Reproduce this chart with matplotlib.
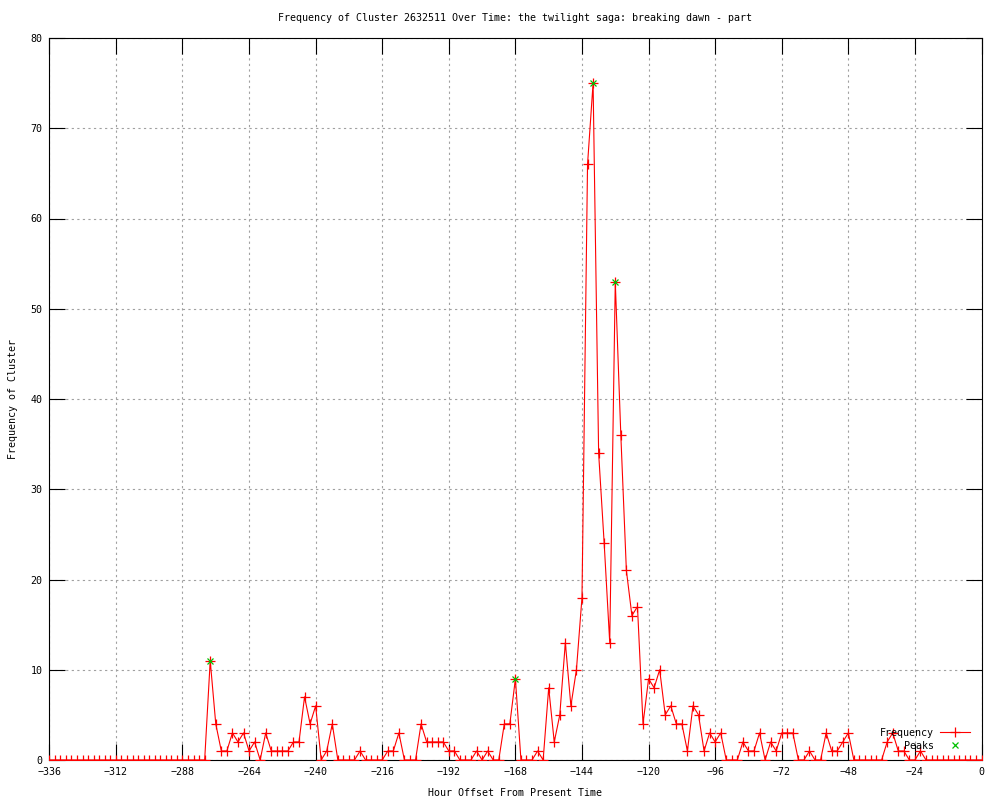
import numpy as np
import matplotlib
matplotlib.use('Agg')
from matplotlib import pyplot as plt

# hour offsets, one sample every 2 hours from -336 to 0
hours = np.arange(-336, 1, 2)

freq = [0] * 29 + [
    11, 4, 1, 1, 3, 2, 3, 1, 2, 0,
    3, 1, 1, 1, 1, 2, 2, 7, 4, 6,
    0, 1, 4, 0, 0, 0, 0, 1, 0, 0,
    0, 0, 1, 1, 3, 0, 0, 0, 4, 2,
    2, 2, 2, 1, 1, 0, 0, 0, 1, 0,
    1, 0, 0, 4, 4, 9, 0, 0, 0, 1,
    0, 8, 2, 5, 13, 6, 10, 18, 66, 75,
    34, 24, 13, 53, 36, 21, 16, 17, 4, 9,
    8, 10, 5, 6, 4, 4, 1, 6, 5, 1,
    3, 2, 3, 0, 0, 0, 2, 1, 1, 3,
    0, 2, 1, 3, 3, 3, 0, 0, 1, 0,
    0, 3, 1, 1, 2, 3, 0, 0, 0, 0,
    0, 0, 2, 3, 1, 1, 0, 0, 1, 0,
] + [0] * 10

peak_hours = [-278, -168, -140, -132]
peak_vals = [11, 9, 75, 53]

xticks = list(range(-336, 1, 24))
yticks = list(range(0, 81, 10))

title = "Frequency of Cluster 2632511 Over Time: the twilight saga: breaking dawn - part"

mono = 'DejaVu Sans Mono'
fs = 7.2
plt.rcParams['font.family'] = mono
plt.rcParams['font.size'] = fs

fig = plt.figure(figsize=(10, 8), dpi=100)
ax = fig.add_axes([0.0493, 0.05, 0.9322, 0.9025])

line, = ax.plot(hours, freq, color='#ff0000', lw=0.8, marker='+',
                markersize=6.5, markeredgewidth=0.9, zorder=3)
pk, = ax.plot(peak_hours, peak_vals, linestyle='none', marker='x',
              color='#00c000', markersize=5, markeredgewidth=0.9, zorder=4)

ax.set_xlim(-336, 0)
ax.set_ylim(0, 80)
ax.set_xticks(xticks)
ax.set_yticks(yticks)
ax.tick_params(direction='in', length=11.5, width=0.8, top=True, right=True,
               labelsize=fs, pad=5, colors='black')
ax.grid(True, color='#a0a0a0', linestyle=(0, (2, 3)), linewidth=0.8)
ax.set_axisbelow(True)
for sp in ax.spines.values():
    sp.set_linewidth(0.8)

fig.text(0.5154, 0.9775, title, ha='center', va='center', fontsize=fs)
fig.text(0.5154, 0.009, "Hour Offset From Present Time", ha='center', va='center', fontsize=fs)
fig.text(0.013, 0.501, "Frequency of Cluster", ha='center', va='center',
         rotation=90, fontsize=fs)

# gnuplot-like key: right aligned labels, sample on the right
common = dict(frameon=False, markerfirst=False, loc='center right', borderpad=0,
              borderaxespad=0, handlelength=3.0, handletextpad=0.6, fontsize=fs)
leg1 = ax.legend([line], ['Frequency'], bbox_to_anchor=(0.988, 0.0374), **common)
ax.add_artist(leg1)
ax.legend([pk], ['Peaks'], bbox_to_anchor=(0.988, 0.0194), **common)

plt.savefig('out.png', dpi=100)
